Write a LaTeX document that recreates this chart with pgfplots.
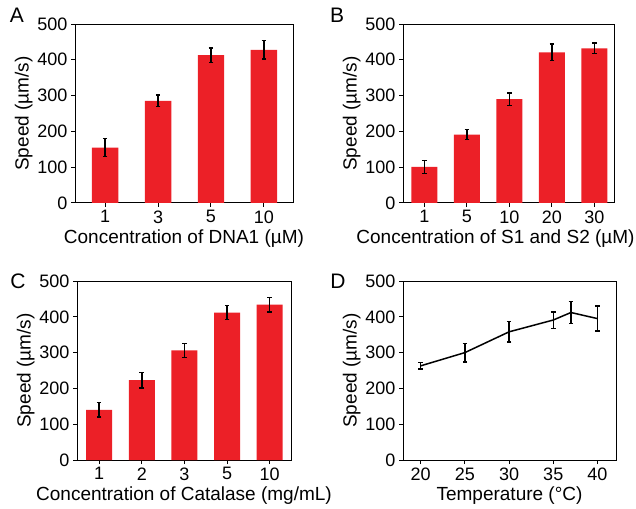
\documentclass[border=0pt]{standalone}
\usepackage{fontspec}
\setmainfont{Liberation Sans}
\usepackage{pgfplots}
\pgfplotsset{compat=1.18}
\definecolor{barred}{RGB}{236,32,39}

\pgfplotsset{
  panel/.style={
    scale only axis, height=179pt,
    ymin=0, ymax=500, ytick={0,100,200,300,400,500},
    tick align=outside, tick pos=left,
    major tick length=4pt,
    axis line style={line width=1pt},
    every tick/.style={line width=1pt, black},
    font=\fontsize{19}{22}\selectfont,
    tick label style={font=\fontsize{18}{21}\selectfont},
    /pgf/number format/assume math mode=true,
    ylabel={Speed (µm/s)},
    ylabel style={yshift=-2pt},
    anchor=south west,
  },
  errbars/.style={
    error bars/.cd, y dir=both, y explicit,
    error bar style={line width=1.5pt, black},
    error mark options={rotate=90, mark size=2.3pt, line width=1.5pt, black},
  },
}

\begin{document}
\begin{tikzpicture}[x=1pt,y=1pt]
\useasboundingbox (0,0) rectangle (636,508);

% A
\begin{axis}[panel, at={(75pt,305pt)}, width=218pt,
  xmin=0.43, xmax=4.55, xtick=data, xticklabels={1,3,5,10},
  xlabel={Concentration of DNA1 (µM)}]
\addplot[ybar, bar width=0.5, fill=barred, draw=none, errbars] coordinates {
(1,155) +- (0,25)
(2,285) +- (0,16)
(3,413) +- (0,20)
(4,428) +- (0,26)
};
\end{axis}

% B
\begin{axis}[panel, at={(403pt,305pt)}, width=211pt,
  xmin=0.5, xmax=5.46, xtick=data, xticklabels={1,5,10,20,30},
  xlabel={Concentration of S1 and S2 (µM)},
  xlabel style={xshift=-13pt}]
\addplot[ybar, bar width=0.61, fill=barred, draw=none, errbars] coordinates {
(1,101) +- (0,18)
(2,191) +- (0,14)
(3,290) +- (0,17)
(4,421) +- (0,23)
(5,432) +- (0,15)
};
\end{axis}

% C
\begin{axis}[panel, at={(77pt,48pt)}, width=214pt,
  xmin=0.48, xmax=5.5, xtick=data, xticklabels={1,2,3,5,10},
  xlabel={Concentration of Catalase (mg/mL)}]
\addplot[ybar, bar width=0.61, fill=barred, draw=none, errbars] coordinates {
(1,140) +- (0,20)
(2,223) +- (0,22)
(3,306) +- (0,19)
(4,412) +- (0,20)
(5,434) +- (0,20)
};
\end{axis}

% D
\begin{axis}[panel, at={(403pt,48pt)}, width=213pt,
  xmin=18, xmax=42.1, xtick={20,25,30,35,40},
  xlabel={Temperature (°C)}]
\addplot[black, line width=1.5pt, mark=none, errbars] coordinates {
(20,263) +- (0,9)
(25,300) +- (0,26)
(30,358) +- (0,29)
(35,391) +- (0,23)
(37,412) +- (0,31)
(40,395) +- (0,35)
};
\end{axis}

\node[font=\fontsize{21}{24}\selectfont] at (17,493) {A};
\node[font=\fontsize{21}{24}\selectfont] at (337,493) {B};
\node[font=\fontsize{21}{24}\selectfont] at (18,227) {C};
\node[font=\fontsize{21}{24}\selectfont] at (338,227) {D};
\end{tikzpicture}
\end{document}
